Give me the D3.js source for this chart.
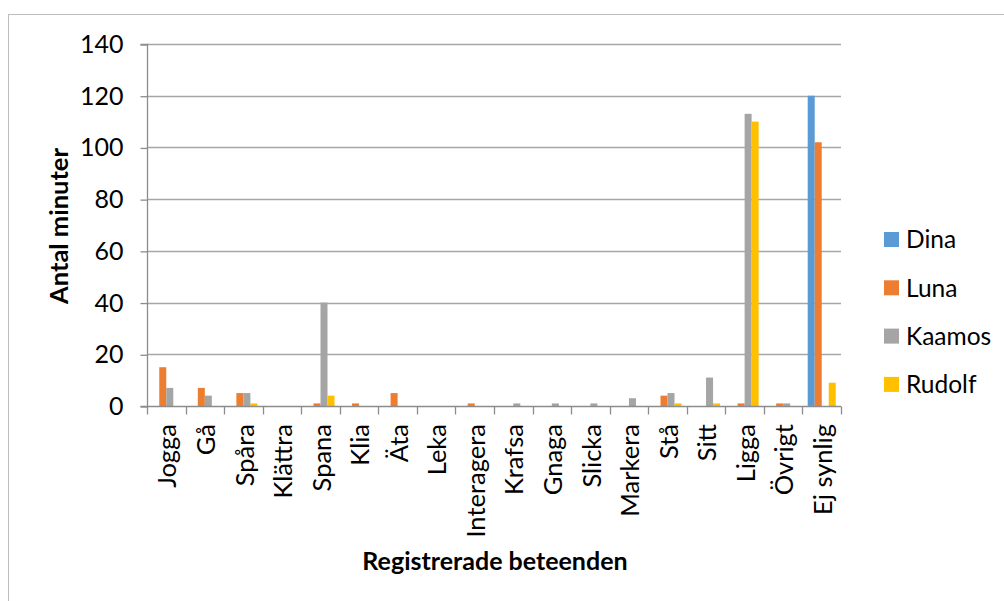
<!DOCTYPE html>
<html>
<head>
<meta charset="utf-8">
<script src="https://cdn.jsdelivr.net/npm/d3@7"></script>
<style>
  html, body { margin: 0; padding: 0; background: #fff; }
  svg { display: block; }
  text { font-family: Lato, "Open Sans", sans-serif; fill: #000; }
</style>
</head>
<body>
<svg id="chart" width="1004" height="601"></svg>
<script>
const categories = ["Jogga","Gå","Spåra","Klättra","Spana","Klia","Äta","Leka","Interagera","Krafsa","Gnaga","Slicka","Markera","Stå","Sitt","Ligga","Övrigt","Ej synlig"];
const seriesNames = ["Dina","Luna","Kaamos","Rudolf"];
const dina   = [0,0,0,0,0,0,0,0,0,0,0,0,0,0,0,0,0,120];
const luna   = [15,7,5,0,1,1,5,0,1,0,0,0,0,4,0,1,1,102];
const kaamos = [7,4,5,0,40,0,0,0,0,1,1,1,3,5,11,113,1,0];
const rudolf = [0,0,1,0,4,0,0,0,0,0,0,0,0,1,1,110,0,9];
const yTicks = [0,20,40,60,80,100,120,140];
const colors = ["#5b9bd5","#ed7d31","#a5a5a5","#ffc000"];

const seriesValues = [dina, luna, kaamos, rudolf];

const svg = d3.select("#chart");
const pLeft = 147, pRight = 841, pTop = 44, pBottom = 406;

// outer border
svg.append("rect").attr("x", 8.5).attr("y", 14.5).attr("width", 1010).attr("height", 620)
  .attr("fill", "none").attr("stroke", "#bdbdbd").attr("stroke-width", 1);

const x0 = d3.scaleBand().domain(categories).range([pLeft, pRight]).paddingInner(0).paddingOuter(0);
const bw = x0.bandwidth();
const barW = bw / 5.5;
const x1 = d3.scaleBand().domain(seriesNames).range([0.75 * barW, 0.75 * barW + 4 * barW]).padding(0);
const y = d3.scaleLinear().domain([0, 140]).range([pBottom, pTop]);

// gridlines
svg.append("g").selectAll("line").data(yTicks.filter(d => d > 0)).join("line")
  .attr("x1", pLeft).attr("x2", pRight)
  .attr("y1", d => Math.round(y(d)) + 0.5).attr("y2", d => Math.round(y(d)) + 0.5)
  .attr("stroke", "#a6a6a6").attr("stroke-width", 1.3);

// bars
const rows = [];
categories.forEach((c, i) => {
  seriesNames.forEach((s, j) => {
    rows.push({ cat: c, s: s, v: seriesValues[j][i], color: colors[j] });
  });
});
svg.append("g").selectAll("rect").data(rows.filter(d => d.v > 0)).join("rect")
  .attr("x", d => x0(d.cat) + x1(d.s))
  .attr("width", x1.bandwidth())
  .attr("y", d => y(d.v))
  .attr("height", d => y(0) - y(d.v))
  .attr("fill", d => d.color);

// y axis
const yAxis = d3.axisLeft(y).tickValues(yTicks).tickSize(7).tickPadding(17);
const gy = svg.append("g").attr("transform", `translate(${pLeft + 0.5},0.5)`).call(yAxis);
gy.select(".domain").attr("stroke", "#8c8c8c").attr("stroke-width", 1.3).attr("d", `M-7,${pTop}H0V${pBottom}H-7`);
gy.selectAll(".tick line").attr("stroke", "#8c8c8c").attr("stroke-width", 1.3);
gy.selectAll(".tick text").style("font-family", "Lato, sans-serif").style("font-size", "25px").attr("fill", "#000");

// x axis
const xAxis = d3.axisBottom(x0).tickSize(0).tickFormat("");
const gx = svg.append("g").attr("transform", `translate(0,${pBottom + 0.5})`).call(xAxis);
gx.select(".domain").attr("stroke", "#8c8c8c").attr("stroke-width", 1.3).attr("d", `M${pLeft},0H${pRight}`);
const boundaries = categories.map(c => x0(c)).concat([pRight]);
gx.selectAll("line.bt").data(boundaries).join("line").attr("class", "bt")
  .attr("x1", d => Math.round(d) + 0.5).attr("x2", d => Math.round(d) + 0.5)
  .attr("y1", 0).attr("y2", 8).attr("stroke", "#8c8c8c").attr("stroke-width", 1.3);

svg.append("g").selectAll("text").data(categories).join("text")
  .attr("transform", d => `translate(${x0(d) + bw / 2 + 1},424) rotate(-90)`)
  .attr("text-anchor", "end").attr("dy", "0.36em")
  .style("font-size", "25.5px")
  .text(d => d);

// axis titles
svg.append("text").attr("transform", `translate(68,226) rotate(-90)`)
  .attr("text-anchor", "middle").style("font-size", "25.5px").style("font-weight", "bold")
  .text("Antal minuter");
svg.append("text").attr("x", 495).attr("y", 570)
  .attr("text-anchor", "middle").style("font-size", "25px").style("font-weight", "bold")
  .text("Registrerade beteenden");

// legend
const lg = svg.append("g").selectAll("g").data(seriesNames).join("g")
  .attr("transform", (d, i) => `translate(884,${232 + i * 48.3})`);
lg.append("rect").attr("width", 15).attr("height", 15).attr("fill", (d, i) => colors[i]);
lg.append("text").attr("x", 22).attr("y", 7.5).attr("dy", "0.36em")
  .style("font-size", "24.5px").text(d => d);
</script>
</body>
</html>
